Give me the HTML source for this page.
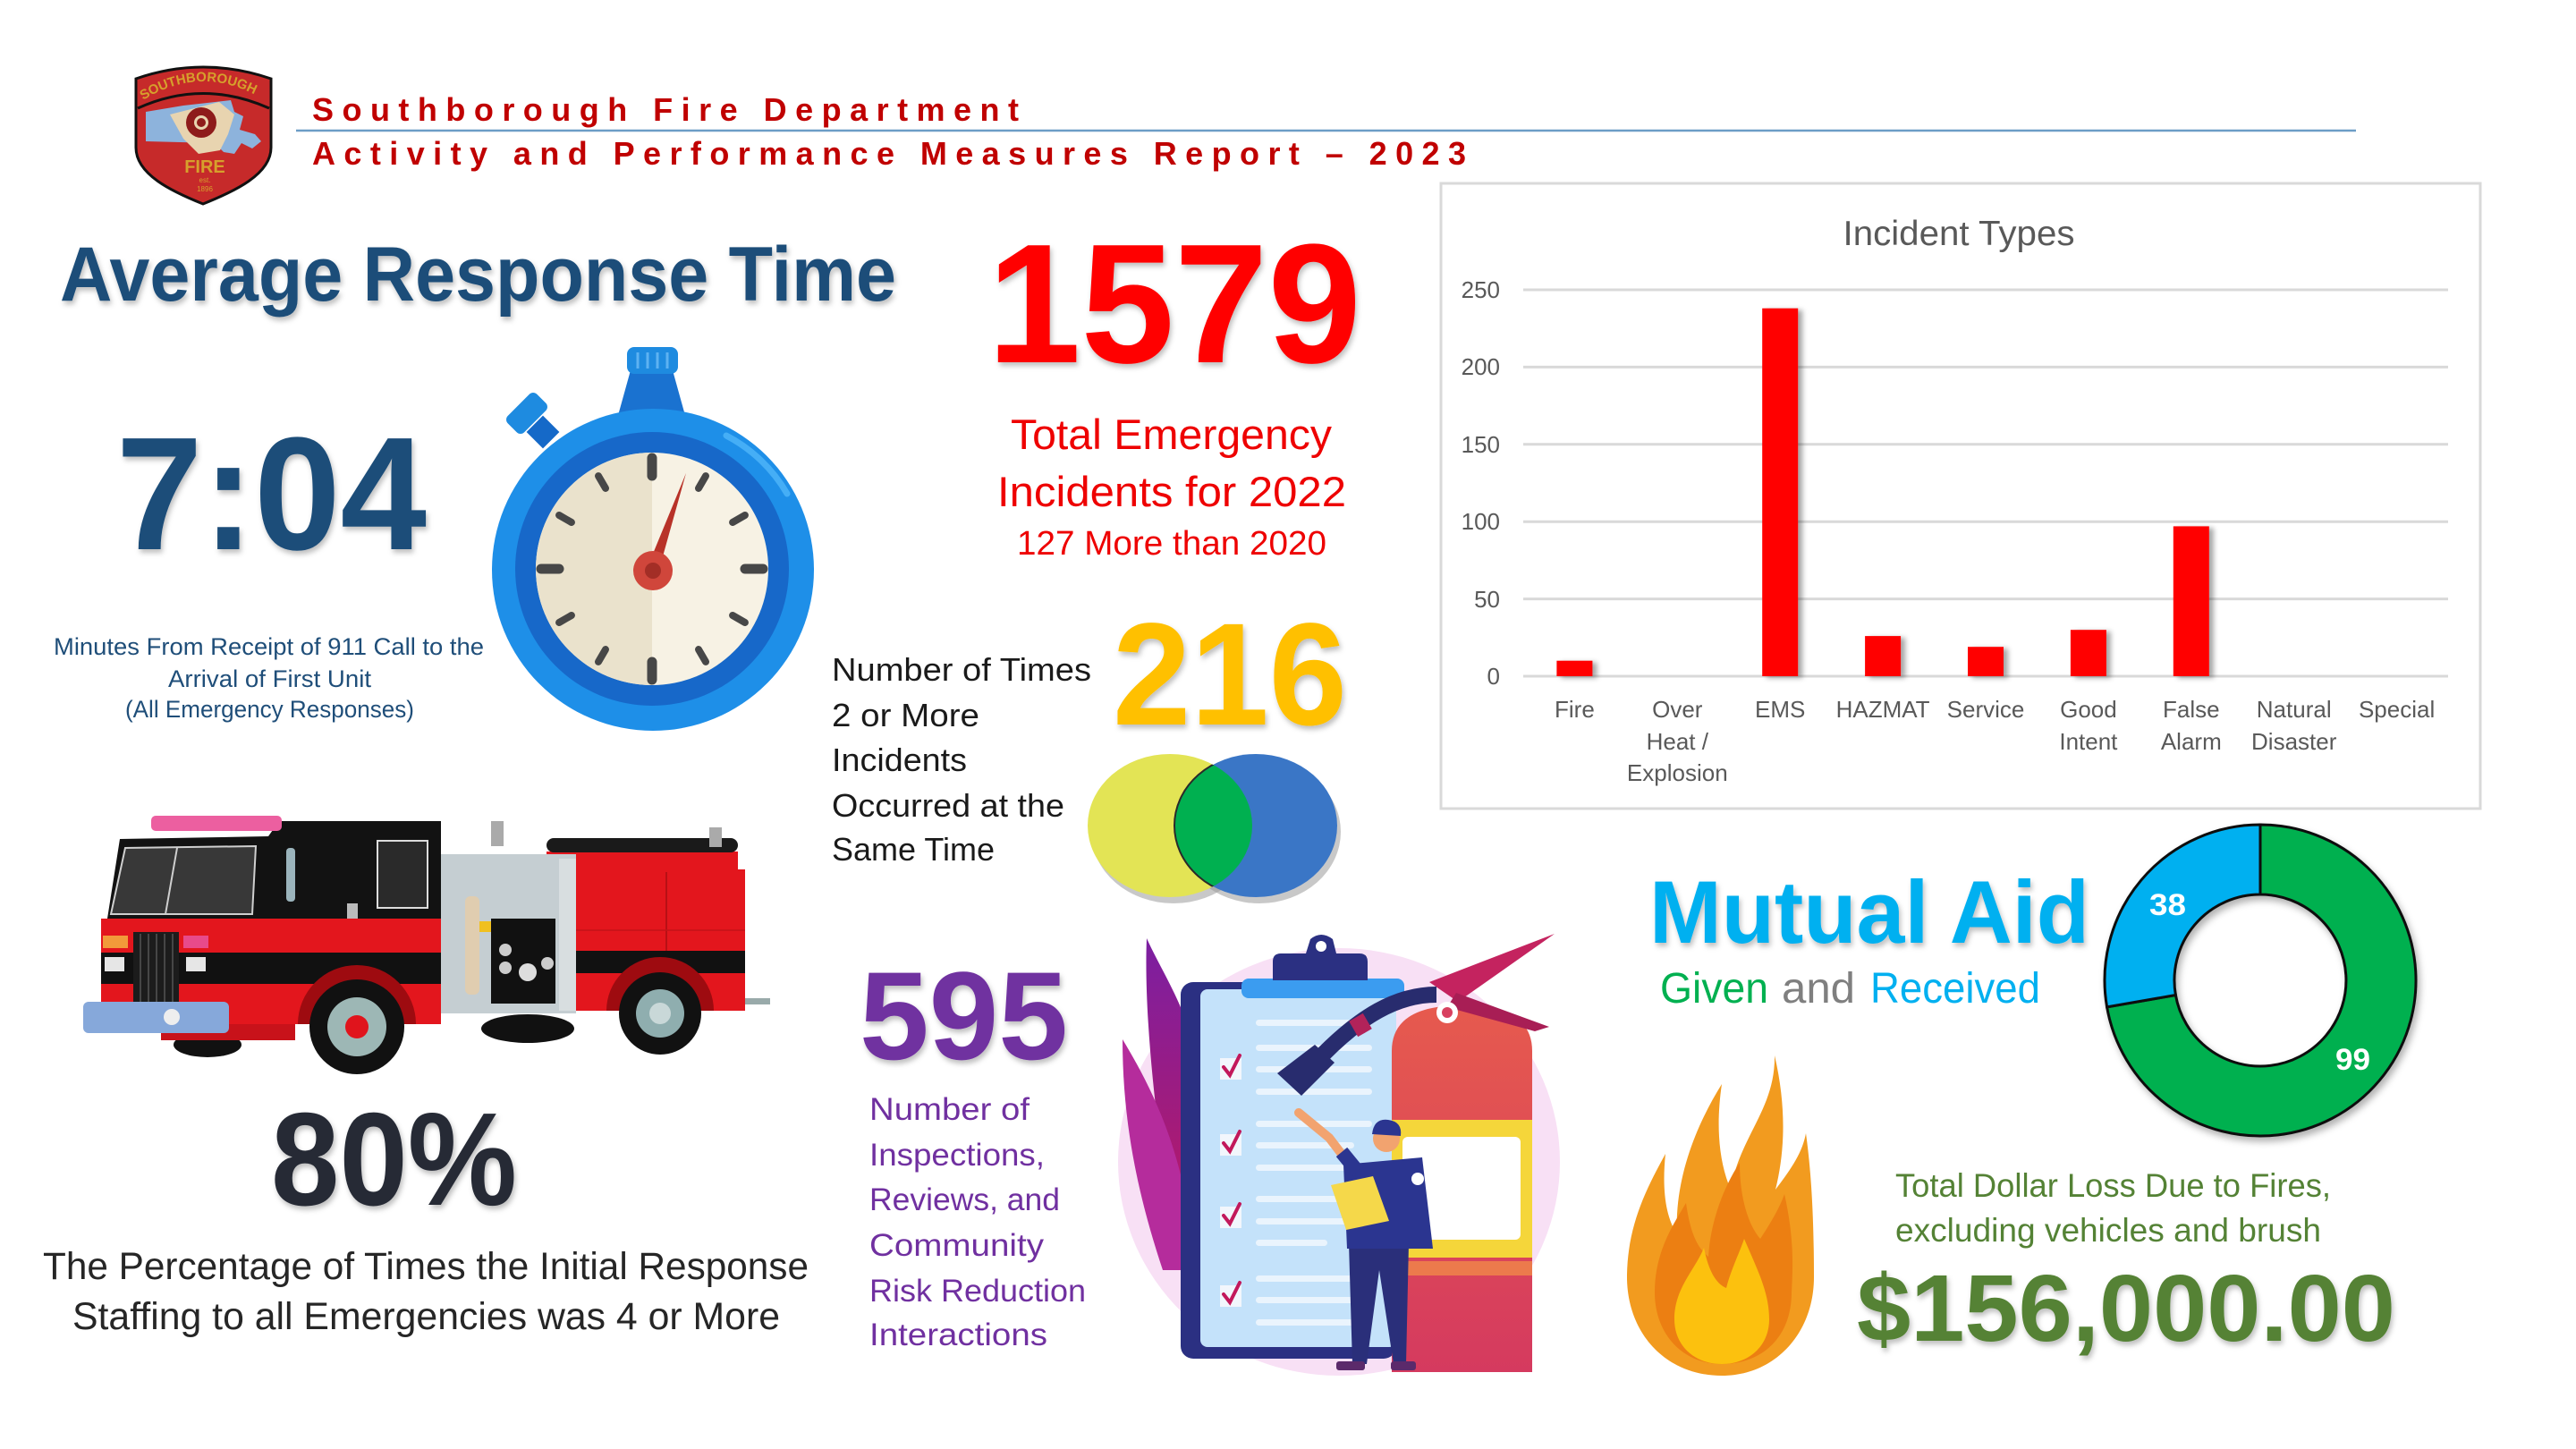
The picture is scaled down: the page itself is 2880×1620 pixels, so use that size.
<!DOCTYPE html>
<html><head><meta charset="utf-8"><style>
html,body{margin:0;padding:0;background:#fff;}
svg{display:block;}
text{font-family:"Liberation Sans",sans-serif;}
</style></head><body>
<svg width="2880" height="1620" viewBox="0 0 2880 1620" xmlns="http://www.w3.org/2000/svg">
<defs>
<filter id="ts" x="-10%" y="-10%" width="130%" height="140%"><feDropShadow dx="2" dy="4" stdDeviation="3" flood-color="#000" flood-opacity="0.25"/></filter>
<filter id="bs" x="-30%" y="-10%" width="180%" height="130%"><feDropShadow dx="5" dy="2" stdDeviation="3" flood-color="#000" flood-opacity="0.35"/></filter>
<filter id="ds" x="-10%" y="-10%" width="130%" height="130%"><feDropShadow dx="3" dy="5" stdDeviation="4" flood-color="#000" flood-opacity="0.3"/></filter>
<linearGradient id="leafA" x1="0" y1="0" x2="0" y2="1"><stop offset="0" stop-color="#7B1FA2"/><stop offset="1" stop-color="#C2185B"/></linearGradient>
<linearGradient id="ext" x1="0" y1="0" x2="0" y2="1"><stop offset="0" stop-color="#E65A4E"/><stop offset="1" stop-color="#D53A5F"/></linearGradient>
<clipPath id="yc"><ellipse cx="1308" cy="923" rx="92" ry="80"/></clipPath>
<path id="arc" d="M160,112 Q227,70 296,112"/>
</defs>

<!-- LOGO -->
<g>
<path d="M152,88 Q227,62 303,88 L303,165 C303,195 262,214 227,228 C192,214 152,195 152,165 Z" fill="#C62A2A" stroke="#111" stroke-width="3"/>
<path d="M154,121 Q227,88 301,121" fill="none" stroke="#111" stroke-width="3"/>
<text font-size="15" font-weight="bold" fill="#D6A02C"><textPath href="#arc">SOUTHBOROUGH</textPath></text>
<polygon points="163,125 205,118 258,112 262,125 272,130 268,145 285,150 292,158 282,166 270,160 262,172 250,170 240,160 163,158" fill="#8DB3DC"/>
<polygon points="190,128 245,114 262,128 255,150 246,168 222,172 205,155" fill="#E8D4B0"/>
<circle cx="225" cy="137" r="17" fill="#8E1B1B"/>
<circle cx="225" cy="137" r="8" fill="#E8D4B0"/>
<circle cx="225" cy="137" r="5" fill="#8E1B1B"/>
<text x="229" y="193" font-size="20" font-weight="bold" fill="#D6A02C" text-anchor="middle">FIRE</text>
<text x="229" y="204" font-size="8" fill="#D6A02C" text-anchor="middle">est.</text>
<text x="229" y="214" font-size="8" fill="#D6A02C" text-anchor="middle">1896</text>
</g>

<!-- HEADER -->
<text x="349" y="135" font-size="36" font-weight="bold" fill="#C00000" textLength="790" lengthAdjust="spacing">Southborough Fire Department</text>
<line x1="331" y1="146" x2="2634" y2="146" stroke="#6C9DC6" stroke-width="2.5"/>
<text x="349" y="184" font-size="36" font-weight="bold" fill="#C00000" textLength="1290" lengthAdjust="spacing">Activity and Performance Measures Report – 2023</text>

<!-- AVERAGE RESPONSE TIME -->
<text x="67" y="336" font-size="86" font-weight="bold" fill="#1F4E79" textLength="935" lengthAdjust="spacingAndGlyphs" filter="url(#ts)">Average Response Time</text>
<text x="130" y="614" font-size="180" font-weight="bold" fill="#1F4E79" textLength="347" lengthAdjust="spacingAndGlyphs" filter="url(#ts)">7:04</text>
<text x="60" y="732" font-size="27" fill="#1F4E79" textLength="481" lengthAdjust="spacingAndGlyphs">Minutes From Receipt of 911 Call to the</text>
<text x="188" y="768" font-size="27" fill="#1F4E79" textLength="227" lengthAdjust="spacingAndGlyphs">Arrival of First Unit</text>
<text x="140" y="802" font-size="27" fill="#1F4E79" textLength="323" lengthAdjust="spacingAndGlyphs">(All Emergency Responses)</text>

<!-- STOPWATCH -->
<g>
<rect x="594" y="470" width="26" height="26" fill="#1569C8" transform="rotate(-45 607 483)"/>
<rect x="566" y="449" width="46" height="26" rx="6" fill="#1E8BE0" transform="rotate(-45 589 462)"/>
<polygon points="705,414 752,414 767,468 690,468" fill="#1A72D0"/>
<rect x="701" y="388" width="57" height="30" rx="8" fill="#1E8BE0"/>
<g stroke="#5DB2F2" stroke-width="3"><line x1="713" y1="394" x2="713" y2="412"/><line x1="724" y1="394" x2="724" y2="412"/><line x1="735" y1="394" x2="735" y2="412"/><line x1="746" y1="394" x2="746" y2="412"/></g>
<circle cx="730" cy="637" r="180" fill="#1E8FE8"/>
<path d="M812,487 A168,168 0 0 1 880,552" fill="none" stroke="#45AEF6" stroke-width="7" stroke-linecap="round"/>
<circle cx="729" cy="636" r="153" fill="#1768C9"/>
<circle cx="729" cy="636" r="130" fill="#F7F2E4"/>
<path d="M729,506 A130,130 0 0 0 729,766 Z" fill="#EAE2CC"/>
<g stroke="#474747" stroke-linecap="round">
<line x1="729" y1="512" x2="729" y2="532" stroke-width="11"/>
<line x1="729" y1="512" x2="729" y2="532" stroke-width="11" transform="rotate(90 729 636)"/>
<line x1="729" y1="512" x2="729" y2="532" stroke-width="11" transform="rotate(180 729 636)"/>
<line x1="729" y1="512" x2="729" y2="532" stroke-width="11" transform="rotate(270 729 636)"/>
<line x1="729" y1="516" x2="729" y2="532" stroke-width="8" transform="rotate(30 729 636)"/>
<line x1="729" y1="516" x2="729" y2="532" stroke-width="8" transform="rotate(60 729 636)"/>
<line x1="729" y1="516" x2="729" y2="532" stroke-width="8" transform="rotate(120 729 636)"/>
<line x1="729" y1="516" x2="729" y2="532" stroke-width="8" transform="rotate(150 729 636)"/>
<line x1="729" y1="516" x2="729" y2="532" stroke-width="8" transform="rotate(210 729 636)"/>
<line x1="729" y1="516" x2="729" y2="532" stroke-width="8" transform="rotate(240 729 636)"/>
<line x1="729" y1="516" x2="729" y2="532" stroke-width="8" transform="rotate(300 729 636)"/>
<line x1="729" y1="516" x2="729" y2="532" stroke-width="8" transform="rotate(330 729 636)"/>
</g>
<polygon points="723,636 736,640 767,529" fill="#B83228"/>
<circle cx="730" cy="638" r="22" fill="#D0463B"/>
<circle cx="730" cy="638" r="9" fill="#A32E26"/>
</g>

<!-- 1579 -->
<text x="1104" y="405" font-size="190" font-weight="bold" fill="#FF0000" textLength="418" lengthAdjust="spacingAndGlyphs" filter="url(#ts)">1579</text>
<text x="1130" y="502" font-size="47" fill="#EE0000" textLength="359" lengthAdjust="spacingAndGlyphs">Total Emergency</text>
<text x="1115" y="566" font-size="47" fill="#EE0000" textLength="390" lengthAdjust="spacingAndGlyphs">Incidents for 2022</text>
<text x="1137" y="620" font-size="38" fill="#EE0000" textLength="346" lengthAdjust="spacingAndGlyphs">127 More than 2020</text>

<!-- 216 -->
<text x="1244" y="810" font-size="163" font-weight="bold" fill="#FFC000" textLength="262" lengthAdjust="spacingAndGlyphs" filter="url(#ts)">216</text>
<g font-size="36" fill="#1a1a1a">
<text x="930" y="761" textLength="290" lengthAdjust="spacingAndGlyphs">Number of Times</text>
<text x="930" y="812" textLength="165" lengthAdjust="spacingAndGlyphs">2 or More</text>
<text x="930" y="862" textLength="151" lengthAdjust="spacingAndGlyphs">Incidents</text>
<text x="930" y="913" textLength="260" lengthAdjust="spacingAndGlyphs">Occurred at the</text>
<text x="930" y="962" textLength="182" lengthAdjust="spacingAndGlyphs">Same Time</text>
</g>
<!-- Venn -->
<g>
<ellipse cx="1312" cy="930" rx="92" ry="80" fill="#9a9a9a" opacity="0.55"/>
<ellipse cx="1408" cy="930" rx="91" ry="80" fill="#9a9a9a" opacity="0.55"/>
<ellipse cx="1308" cy="923" rx="92" ry="80" fill="#E3E455"/>
<ellipse cx="1404" cy="923" rx="91" ry="80" fill="#3A76C6"/>
<ellipse cx="1404" cy="923" rx="91" ry="80" fill="#00B050" stroke="#2a2a2a" stroke-width="2" clip-path="url(#yc)"/>
</g>

<!-- CHART -->
<g>
<rect x="1611" y="205" width="1162" height="699" fill="#fff" stroke="#D9D9D9" stroke-width="3"/>
<text x="2190" y="274" font-size="39" fill="#595959" text-anchor="middle" textLength="259" lengthAdjust="spacingAndGlyphs">Incident Types</text>
<g stroke="#D9D9D9" stroke-width="3">
<line x1="1703" y1="324" x2="2737" y2="324"/>
<line x1="1703" y1="410.4" x2="2737" y2="410.4"/>
<line x1="1703" y1="496.8" x2="2737" y2="496.8"/>
<line x1="1703" y1="583.2" x2="2737" y2="583.2"/>
<line x1="1703" y1="669.6" x2="2737" y2="669.6"/>
<line x1="1703" y1="756" x2="2737" y2="756"/>
</g>
<g font-size="26" fill="#595959" text-anchor="end">
<text x="1677" y="333">250</text>
<text x="1677" y="419">200</text>
<text x="1677" y="506">150</text>
<text x="1677" y="592">100</text>
<text x="1677" y="679">50</text>
<text x="1677" y="765">0</text>
</g>
<g fill="#FF0000" filter="url(#bs)">
<rect x="1740.4" y="738.7" width="40" height="17.3"/>
<rect x="1970.2" y="344.7" width="40" height="411.3"/>
<rect x="2085.1" y="711.1" width="40" height="44.9"/>
<rect x="2200" y="723.2" width="40" height="32.8"/>
<rect x="2314.9" y="704.2" width="40" height="51.8"/>
<rect x="2429.8" y="588.4" width="40" height="167.6"/>
</g>
<g font-size="26" fill="#595959" text-anchor="middle">
<text x="1760.4" y="802">Fire</text>
<text x="1875.3" y="802">Over</text>
<text x="1875.3" y="838">Heat /</text>
<text x="1875.3" y="873">Explosion</text>
<text x="1990.2" y="802">EMS</text>
<text x="2105.1" y="802">HAZMAT</text>
<text x="2220" y="802">Service</text>
<text x="2334.9" y="802">Good</text>
<text x="2334.9" y="838">Intent</text>
<text x="2449.8" y="802">False</text>
<text x="2449.8" y="838">Alarm</text>
<text x="2564.7" y="802">Natural</text>
<text x="2564.7" y="838">Disaster</text>
<text x="2679.6" y="802">Special</text>
</g>
</g>

<!-- FIRE TRUCK -->
<g>
<ellipse cx="590" cy="1150" rx="52" ry="16" fill="#111"/>
<rect x="644" y="972" width="189" height="158" fill="#E3161D"/>
<line x1="745" y1="975" x2="745" y2="1063" stroke="#B81015" stroke-width="2"/>
<line x1="644" y1="1040" x2="833" y2="1040" stroke="#C41218" stroke-width="1.5"/>
<rect x="644" y="1063" width="189" height="25" fill="#111"/>
<rect x="833" y="1116" width="28" height="7" fill="#9aa"/>
<rect x="611" y="952" width="214" height="22" fill="#E3161D"/>
<rect x="611" y="937" width="214" height="16" rx="8" fill="#1a1a1a"/>
<rect x="793" y="925" width="14" height="22" fill="#aaa"/>
<path d="M678,1130 A60,60 0 0 1 798,1130 Z" fill="#9E0B10"/>
<circle cx="738" cy="1133" r="46" fill="#111"/>
<circle cx="738" cy="1133" r="27" fill="#8FAEAF"/>
<circle cx="738" cy="1133" r="12" fill="#C9D8D8"/>
<rect x="493" y="955" width="151" height="178" fill="#C5CED2"/>
<rect x="625" y="960" width="19" height="170" fill="#D8DEE0"/>
<rect x="549" y="1027" width="72" height="95" fill="#111"/>
<rect x="520" y="1002" width="16" height="110" rx="6" fill="#E0CDB0"/>
<rect x="536" y="1030" width="13" height="12" fill="#F0C020"/>
<circle cx="565" cy="1062" r="7" fill="#ccc"/>
<circle cx="565" cy="1082" r="7" fill="#ccc"/>
<circle cx="590" cy="1087" r="10" fill="#ddd"/>
<circle cx="612" cy="1077" r="7" fill="#ccc"/>
<path d="M134,938 L300,935 L312,918 L493,918 L493,1027 L120,1027 Z" fill="#121212"/>
<path d="M124,1022 L140,948 L286,946 L282,1022 Z" fill="#383838" stroke="#cfcfcf" stroke-width="2"/>
<line x1="198" y1="948" x2="185" y2="1022" stroke="#cfcfcf" stroke-width="2"/>
<rect x="422" y="940" width="56" height="75" fill="#2a2a2a" stroke="#ddd" stroke-width="2"/>
<rect x="320" y="948" width="10" height="60" rx="4" fill="#9BB4BC"/>
<rect x="388" y="1010" width="12" height="40" fill="#bbb"/>
<rect x="549" y="918" width="14" height="28" fill="#aaa"/>
<path d="M113,1027 L493,1027 L493,1145 L113,1145 Z" fill="#E3161D"/>
<rect x="113" y="1065" width="380" height="35" fill="#111"/>
<rect x="149" y="1042" width="51" height="81" fill="#1c1c1c"/>
<g stroke="#555" stroke-width="1.5"><line x1="157" y1="1044" x2="157" y2="1121"/><line x1="166" y1="1044" x2="166" y2="1121"/><line x1="175" y1="1044" x2="175" y2="1121"/><line x1="184" y1="1044" x2="184" y2="1121"/><line x1="193" y1="1044" x2="193" y2="1121"/></g>
<rect x="115" y="1046" width="28" height="14" fill="#F29A3A"/>
<rect x="205" y="1046" width="28" height="14" fill="#E84A8A"/>
<rect x="117" y="1070" width="22" height="16" fill="#e6e6e6"/>
<rect x="208" y="1070" width="22" height="16" fill="#e6e6e6"/>
<path d="M333,1145 A66,66 0 0 1 465,1145 Z" fill="#9E0B10"/>
<ellipse cx="232" cy="1168" rx="38" ry="14" fill="#111"/>
<rect x="180" y="1145" width="150" height="18" fill="#C8121A"/>
<circle cx="399" cy="1148" r="53" fill="#111"/>
<circle cx="399" cy="1148" r="33" fill="#9DB7B5"/>
<circle cx="399" cy="1148" r="13" fill="#E0141C"/>
<rect x="93" y="1120" width="163" height="35" rx="6" fill="#86A8DA"/>
<circle cx="192" cy="1137" r="9" fill="#eee"/>
<rect x="169" y="912" width="146" height="17" rx="5" fill="#EC5FA0"/>
</g>

<!-- 80% -->
<text x="303" y="1347" font-size="148" font-weight="bold" fill="#262B36" textLength="275" lengthAdjust="spacingAndGlyphs" filter="url(#ts)">80%</text>
<text x="48" y="1430" font-size="43" fill="#262626" textLength="856" lengthAdjust="spacingAndGlyphs">The Percentage of Times the Initial Response</text>
<text x="81" y="1486" font-size="43" fill="#262626" textLength="791" lengthAdjust="spacingAndGlyphs">Staffing to all Emergencies was 4 or More</text>

<!-- 595 -->
<text x="961" y="1184" font-size="140" font-weight="bold" fill="#7030A0" textLength="233" lengthAdjust="spacingAndGlyphs" filter="url(#ts)">595</text>
<g font-size="35" fill="#7030A0">
<text x="972" y="1252" textLength="179" lengthAdjust="spacingAndGlyphs">Number of</text>
<text x="972" y="1303" textLength="196" lengthAdjust="spacingAndGlyphs">Inspections,</text>
<text x="972" y="1353" textLength="213" lengthAdjust="spacingAndGlyphs">Reviews, and</text>
<text x="972" y="1404" textLength="195" lengthAdjust="spacingAndGlyphs">Community</text>
<text x="972" y="1455" textLength="242" lengthAdjust="spacingAndGlyphs">Risk Reduction</text>
<text x="972" y="1504" textLength="199" lengthAdjust="spacingAndGlyphs">Interactions</text>
</g>

<!-- CLIPBOARD ILLUSTRATION -->
<g>
<ellipse cx="1497" cy="1299" rx="247" ry="239" fill="#F8E0F5"/>
<path d="M1282,1049 C1305,1100 1345,1150 1345,1250 L1345,1420 L1318,1420 C1298,1300 1278,1150 1282,1049 Z" fill="url(#leafA)"/>
<path d="M1255,1162 C1290,1220 1330,1300 1335,1420 L1300,1420 C1270,1330 1255,1250 1255,1162 Z" fill="#B52C9C"/>
<rect x="1320" y="1098" width="241" height="421" rx="14" fill="#2B3082"/>
<rect x="1342" y="1106" width="219" height="400" rx="8" fill="#C4E2FA"/>
<rect x="1388" y="1094" width="182" height="22" rx="8" fill="#3B9CF0"/>
<path d="M1423,1096 L1423,1075 Q1423,1066 1432,1066 L1460,1066 L1465,1050 Q1477,1040 1490,1050 L1494,1066 L1520,1066 Q1529,1066 1529,1075 L1529,1096 Z" fill="#2B3082"/>
<circle cx="1477" cy="1058" r="6" fill="#fff"/>
<g fill="#EAF4FD">
<rect x="1404" y="1140" width="130" height="7" rx="3.5"/>
<rect x="1404" y="1168" width="130" height="7" rx="3.5"/>
<rect x="1404" y="1192" width="130" height="7" rx="3.5"/>
<rect x="1404" y="1217" width="130" height="7" rx="3.5"/>
<rect x="1404" y="1253" width="130" height="7" rx="3.5"/>
<rect x="1404" y="1277" width="110" height="7" rx="3.5"/>
<rect x="1404" y="1302" width="110" height="7" rx="3.5"/>
<rect x="1404" y="1337" width="130" height="7" rx="3.5"/>
<rect x="1404" y="1362" width="130" height="7" rx="3.5"/>
<rect x="1404" y="1386" width="80" height="7" rx="3.5"/>
<rect x="1404" y="1426" width="130" height="7" rx="3.5"/>
<rect x="1404" y="1450" width="130" height="7" rx="3.5"/>
<rect x="1404" y="1475" width="120" height="7" rx="3.5"/>
</g>
<g fill="#F2F6FC"><rect x="1364" y="1183" width="24" height="24"/><rect x="1364" y="1268" width="24" height="24"/><rect x="1364" y="1349" width="24" height="24"/><rect x="1364" y="1437" width="24" height="24"/></g>
<g fill="none" stroke="#C2185B" stroke-width="4" stroke-linecap="round"><path d="M1368,1193 L1375,1202 L1386,1180"/><path d="M1368,1278 L1375,1287 L1386,1265"/><path d="M1368,1359 L1375,1368 L1386,1346"/><path d="M1368,1447 L1375,1456 L1386,1434"/></g>
<path d="M1556,1534 L1556,1175 Q1556,1124 1634,1124 Q1713,1124 1713,1175 L1713,1534 Z" fill="url(#ext)"/>
<rect x="1556" y="1410" width="157" height="16" fill="#EC7A4C"/>
<rect x="1556" y="1252" width="157" height="154" fill="#F5D63A"/>
<rect x="1568" y="1271" width="132" height="115" rx="6" fill="#fff"/>
<path d="M1598,1098 L1738,1044 L1630,1120 Z" fill="#C4235F"/>
<path d="M1628,1110 L1732,1148 L1716,1153 L1618,1126 Z" fill="#A81E55"/>
<circle cx="1618" cy="1132" r="12" fill="#fff"/>
<circle cx="1618" cy="1132" r="6" fill="#D84060"/>
<path d="M1606,1112 C1560,1112 1520,1138 1480,1178" fill="none" stroke="#282C6E" stroke-width="18"/>
<rect x="1512" y="1136" width="18" height="20" fill="#B2235A" transform="rotate(-30 1521 1146)"/>
<polygon points="1470,1168 1492,1188 1455,1225 1428,1200" fill="#282C6E"/>
<polygon points="1508,1390 1575,1390 1572,1525 1558,1525 1542,1420 1528,1525 1512,1525" fill="#2A2F7A"/>
<rect x="1494" y="1522" width="32" height="10" rx="3" fill="#5B2A6B"/>
<rect x="1555" y="1522" width="28" height="10" rx="3" fill="#5B2A6B"/>
<path d="M1502,1302 L1590,1294 L1602,1396 L1506,1396 Z" fill="#2B3590"/>
<path d="M1512,1306 L1486,1272 L1452,1244" fill="none" stroke="#F2A36F" stroke-width="10" stroke-linecap="round"/>
<path d="M1518,1310 L1500,1288" fill="none" stroke="#2B3590" stroke-width="16"/>
<circle cx="1550" cy="1273" r="15" fill="#F2A36F"/>
<path d="M1534,1268 Q1536,1250 1552,1252 Q1568,1254 1566,1270 Z" fill="#2B3590"/>
<polygon points="1488,1325 1535,1315 1553,1365 1505,1375" fill="#F5D84A"/>
<circle cx="1585" cy="1318" r="7" fill="#fff"/>
</g>

<!-- MUTUAL AID -->
<text x="1844" y="1054" font-size="99" font-weight="bold" fill="#00B0F0" textLength="492" lengthAdjust="spacingAndGlyphs" filter="url(#ts)">Mutual Aid</text>
<text x="1856" y="1121" font-size="48" fill="#00B050" textLength="121" lengthAdjust="spacingAndGlyphs">Given</text>
<text x="1992" y="1121" font-size="48" fill="#7F7F7F" textLength="82" lengthAdjust="spacingAndGlyphs">and</text>
<text x="2091" y="1121" font-size="48" fill="#00B0F0" textLength="190" lengthAdjust="spacingAndGlyphs">Received</text>
<g filter="url(#ds)">
<path d="M2527,922 A174,174 0 1 1 2355.6,1125.9 L2432.4,1112.5 A96,96 0 1 0 2527,1000 Z" fill="#00B050" stroke="#111" stroke-width="3"/>
<path d="M2527,922 A174,174 0 0 0 2355.6,1125.9 L2432.4,1112.5 A96,96 0 0 1 2527,1000 Z" fill="#00B0F0" stroke="#111" stroke-width="3"/>
</g>
<text x="2403" y="1023" font-size="34" font-weight="bold" fill="#fff" textLength="41" lengthAdjust="spacingAndGlyphs">38</text>
<text x="2611" y="1196" font-size="34" font-weight="bold" fill="#fff" textLength="39" lengthAdjust="spacingAndGlyphs">99</text>

<!-- FLAME -->
<g>
<path d="M1925,1538 C1862,1538 1818,1490 1819,1425 C1820,1370 1840,1330 1862,1290 C1858,1330 1862,1360 1875,1380 C1872,1320 1895,1260 1925,1212 C1918,1260 1922,1300 1935,1330 C1945,1270 1985,1240 1984,1180 C1998,1240 1995,1290 1985,1330 C2000,1310 2015,1290 2019,1267 C2025,1310 2028,1360 2028,1428 C2028,1490 1985,1538 1925,1538 Z" fill="#F29B1F"/>
<path d="M1925,1525 C1880,1525 1850,1490 1850,1445 C1850,1400 1870,1370 1885,1345 C1890,1380 1898,1395 1910,1405 C1912,1370 1925,1330 1945,1300 C1945,1340 1955,1370 1968,1385 C1978,1370 1990,1350 1995,1335 C2005,1380 2005,1410 2003,1445 C2003,1495 1970,1525 1925,1525 Z" fill="#EC7F12"/>
<path d="M1925,1525 C1895,1525 1872,1505 1872,1475 C1872,1440 1895,1420 1905,1395 C1910,1420 1918,1435 1930,1440 C1935,1420 1945,1400 1950,1385 C1965,1420 1978,1445 1978,1475 C1978,1505 1955,1525 1925,1525 Z" fill="#FCC10E"/>
</g>

<!-- DOLLAR LOSS -->
<text x="2119" y="1338" font-size="37" fill="#548235" textLength="487" lengthAdjust="spacingAndGlyphs">Total Dollar Loss Due to Fires,</text>
<text x="2119" y="1388" font-size="37" fill="#548235" textLength="476" lengthAdjust="spacingAndGlyphs">excluding vehicles and brush</text>
<text x="2076" y="1499" font-size="106" font-weight="bold" fill="#548235" textLength="602" lengthAdjust="spacingAndGlyphs" filter="url(#ts)">$156,000.00</text>
</svg>
</body></html>
